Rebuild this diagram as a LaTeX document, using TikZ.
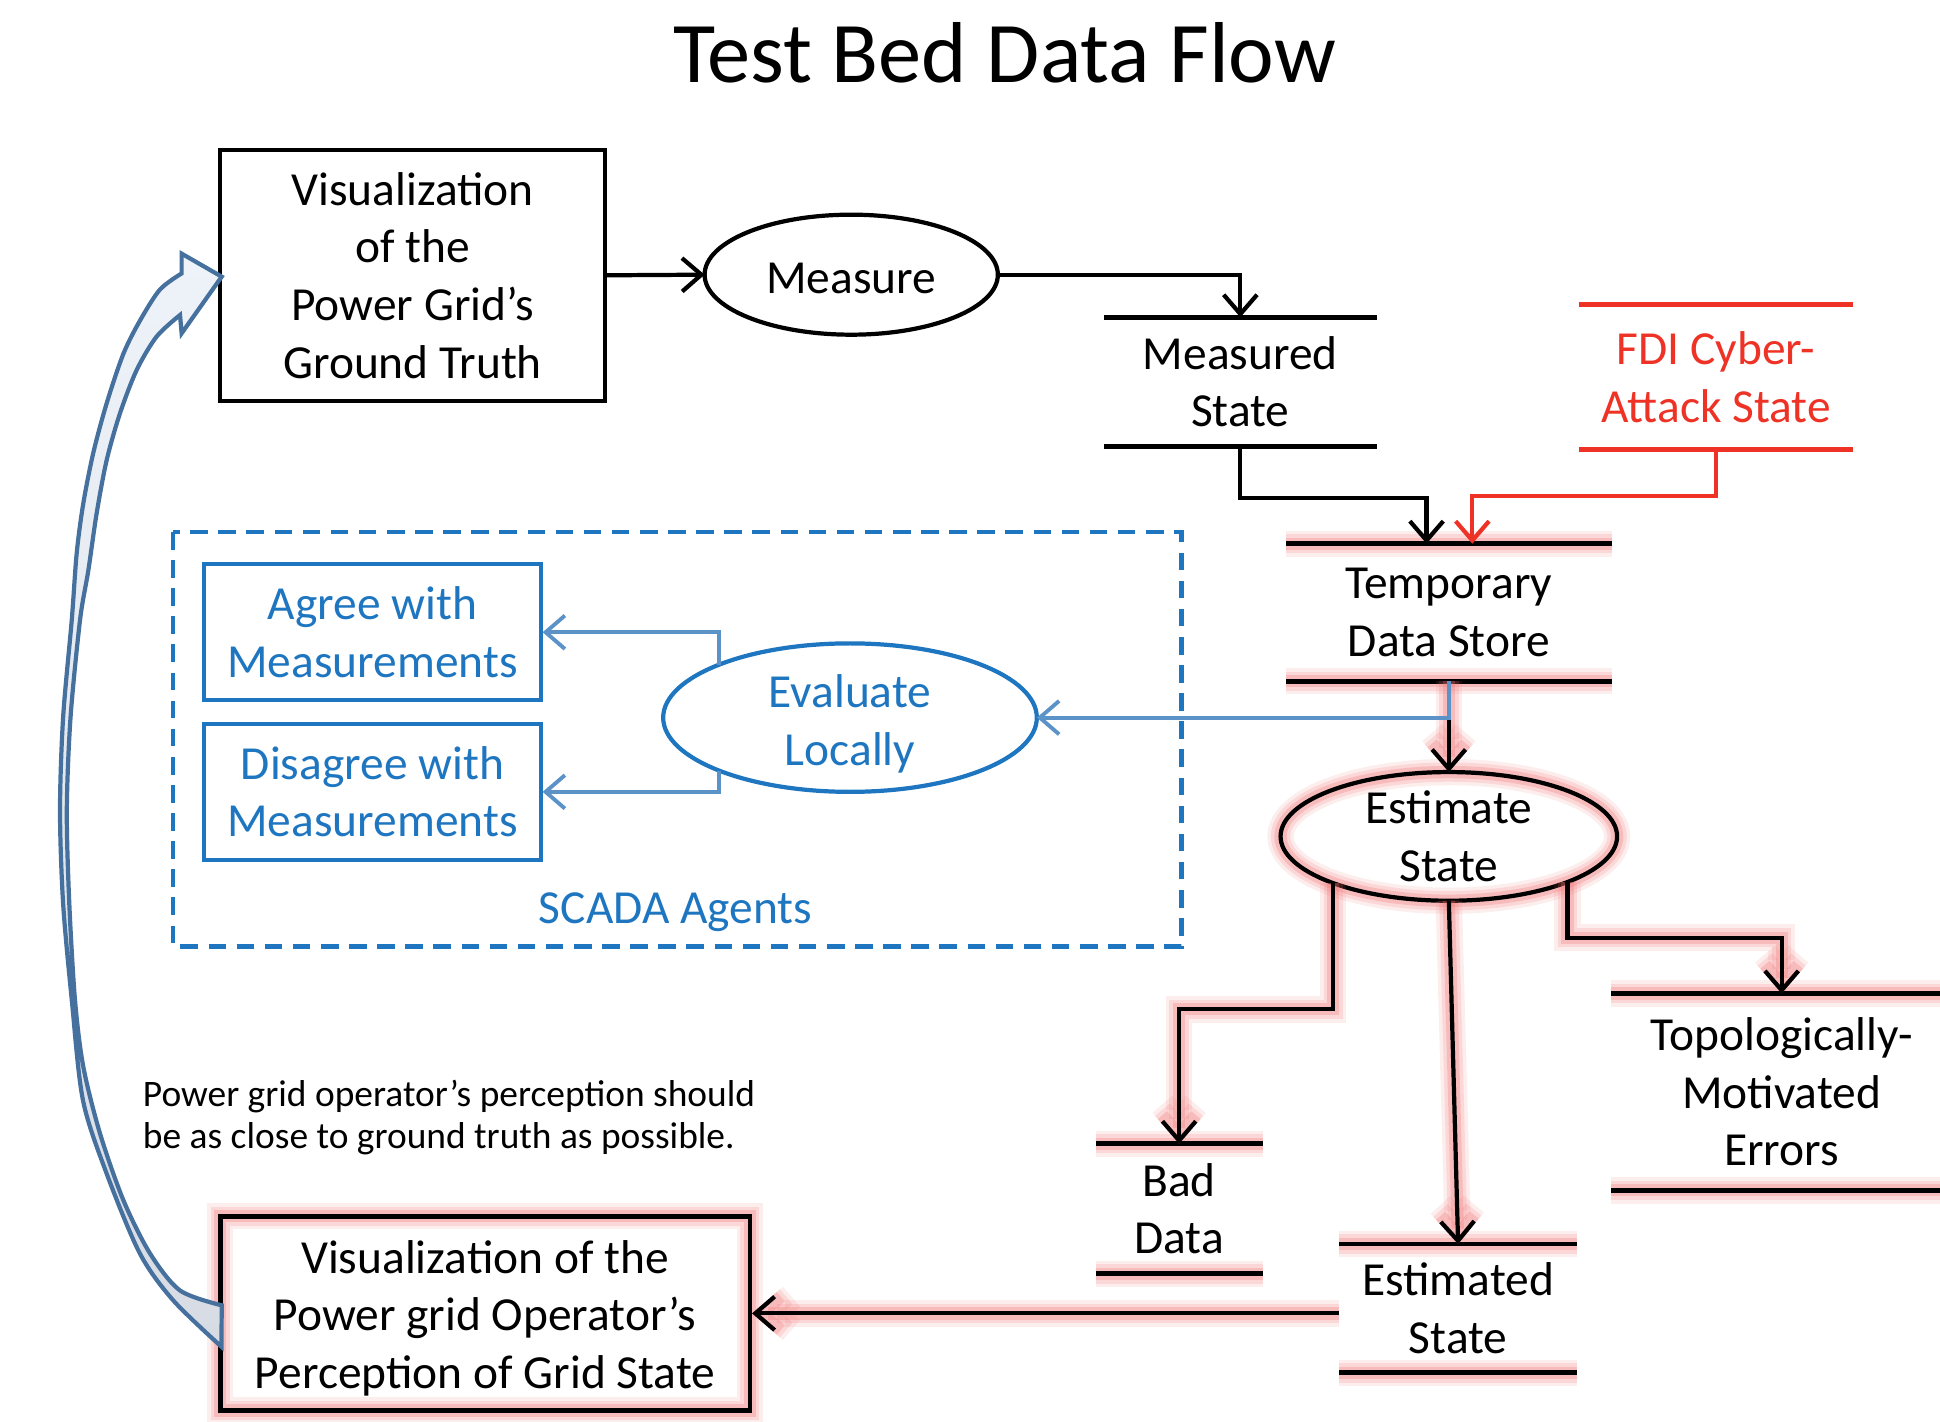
\documentclass[tikz,border=0pt]{standalone}
\usepackage{fontspec}
\setmainfont{Carlito}
\usepackage{tikz}
\usetikzlibrary{arrows.meta,shapes.geometric,calc}
\definecolor{agent}{HTML}{1F76C0}
\definecolor{agentline}{HTML}{5B93C8}
\definecolor{attackred}{HTML}{EE3326}
\definecolor{glowc}{HTML}{F07070}
\definecolor{loopline}{HTML}{46719E}
\definecolor{looptop}{HTML}{EEF3F9}
\definecolor{loopbot}{HTML}{D7DCE4}
\newcommand{\unitpx}{0.012372cm}
\tikzset{
  txt/.style={font=\fontsize{13.5}{16.4}\selectfont, align=center, inner sep=0pt},
  proc/.style={txt, draw, line width=1.1pt, rectangle},
  bubble/.style={ellipse, draw, line width=1.2pt, inner sep=0pt, outer sep=0pt},
  storeline/.style={line width=1.4pt},
  flow/.style={line width=1.2pt, -{Straight Barb[length=5.5pt, width=9.5pt]}},
  attack/.style={flow, draw=attackred},
  agentflow/.style={line width=1.1pt, draw=agentline, -{Straight Barb[length=5.5pt, width=9.5pt]}},
  agentbox/.style={draw=agent, line width=1.2pt, dash pattern=on 5pt off 3pt},
  glow/.style={preaction={draw=glowc, line width=7.5pt, opacity=0.12},
               preaction={draw=glowc, line width=5.5pt, opacity=0.18},
               preaction={draw=glowc, line width=3.5pt, opacity=0.28}}
}

\begin{document}
\begin{tikzpicture}[x=0.012372cm, y=-0.012372cm]
\useasboundingbox (0,0) rectangle (1568,1149);

\node[txt, font=\fontsize{24.6}{28}\selectfont] (title) at (812,43) {Test Bed Data Flow};

% ground truth side
\node[proc, minimum width=311*\unitpx, minimum height=203*\unitpx] (truth) at (333.5,222.5)
  {Visualization\\of the\\Power Grid’s\\Ground Truth};
\node[bubble, minimum width=237*\unitpx, minimum height=97*\unitpx] (measure) at (688,222) {};
\node[txt] (measureT) at ([yshift=-3*\unitpx]measure.center) {Measure};

\node[txt, minimum width=219*\unitpx, minimum height=103*\unitpx] (meas) at (1002.5,308.5) {Measured\\State};
\draw[storeline] (meas.north west) -- (meas.north east) (meas.south west) -- (meas.south east);

\node[txt, text=attackred, minimum width=220*\unitpx, minimum height=116*\unitpx] (fdi) at (1387,305) {FDI Cyber-\\Attack State};
\draw[storeline, draw=attackred] (fdi.north west) -- (fdi.north east) (fdi.south west) -- (fdi.south east);

\node[txt, minimum width=262*\unitpx, minimum height=110*\unitpx] (temp) at (1171,495) {Temporary\\Data Store};
\draw[storeline, glow] (temp.north west) -- (temp.north east);
\draw[storeline, glow] (temp.south west) -- (temp.south east);

% estimation side
\node[bubble, glow, minimum width=272*\unitpx, minimum height=104*\unitpx] (est) at (1171,676) {};
\node[txt] (estT) at (est) {Estimate\\State};

\node[txt, minimum width=134*\unitpx, minimum height=104*\unitpx] (bad) at (953,977) {Bad\\Data};
\draw[storeline, glow] (bad.north west) -- (bad.north east);
\draw[storeline, glow] (bad.south west) -- (bad.south east);

\node[txt, minimum width=274*\unitpx, minimum height=158*\unitpx] (topo) at (1440,882.5) {Topologically-\\Motivated\\Errors};
\draw[storeline, glow] (topo.north west) -- (topo.north east);
\draw[storeline, glow] (topo.south west) -- (topo.south east);

\node[txt, minimum width=191*\unitpx, minimum height=103*\unitpx] (estd) at (1178.5,1057.5) {Estimated\\State};
\draw[storeline, glow] (estd.north west) -- (estd.north east);
\draw[storeline, glow] (estd.south west) -- (estd.south east);

\node[proc, glow, line width=1.3pt, minimum width=428*\unitpx, minimum height=157*\unitpx] (percep) at (392,1061.5) {};
\node[txt] (percepT) at ([yshift=-4*\unitpx]percep.center)
  {Visualization of the\\Power grid Operator’s\\Perception of Grid State};

% SCADA agents
\draw[agentbox] (140,430) rectangle (955,765);
\node[txt, text=agent] (scadaT) at (546,737) {SCADA Agents};
\node[proc, draw=agent, text=agent, minimum width=272*\unitpx, minimum height=110*\unitpx] (agree) at (301,511) {Agree with\\Measurements};
\node[proc, draw=agent, text=agent, minimum width=272*\unitpx, minimum height=110*\unitpx] (disagree) at (301,640) {Disagree with\\Measurements};
\node[bubble, draw=agent, minimum width=302*\unitpx, minimum height=120*\unitpx] (eval) at (687,580) {};
\node[txt, text=agent] (evalT) at ([yshift=-5*\unitpx]eval.center) {Evaluate\\Locally};

\node[txt, font=\fontsize{10.65}{11.9}\selectfont, align=left, anchor=west] (note) at (115,903)
  {Power grid operator’s perception should\\be as close to ground truth as possible.};

% connectors
\draw[flow] (truth.east) -- (measure.west);
\draw[flow] (measure.east) -| (meas.north);
\draw[flow] (meas.south) -- ++(0,42) -| ([xshift=-18*\unitpx]temp.north);
\draw[attack] (fdi.south) -- ++(0,37) -| ([xshift=19*\unitpx]temp.north);
\coordinate (split) at (temp.south |- eval.east);
\draw[flow, glow] (temp.south) -- (est.north);
\draw[agentflow] (temp.south) -- (split) -- (eval.east);
\draw[agentflow] (eval.158) |- (agree.east);
\draw[agentflow] (eval.202) |- (disagree.east);
\draw[flow, glow] (est.202) -- ++(0,102) -| (bad.north);
\draw[flow, glow] (est.south) -- (estd.north);
\draw[flow, glow] (est.339) -- ++(0,45) -| (topo.north);
\draw[flow, glow] (percep.east -| estd.west) -- (percep.east);

% feedback arrow
\filldraw[draw=loopline, line width=1.2pt, top color=looptop, bottom color=loopbot]
  plot[smooth] coordinates {(179,1088.5) (140,1051) (113,1013) (86,948) (67,889) (58,808) (51,730) (48.5,655) (51,580) (58,501) (62,447) (67.3,407) (75.4,366) (86.2,326) (99.7,286) (113.2,259) (129.3,234) (146.8,221)}
  -- (146.8,205) -- (179.2,223.6) -- (146.8,269.4) -- (145.5,254.6)
  -- plot[smooth] coordinates {(145.5,254.6) (126.6,272) (110.5,299) (97,334) (86.2,372) (78.1,415) (71.4,461) (64.7,501) (57,580) (54,655) (56,730) (60.6,808) (67.3,862) (80.8,916) (99.7,970) (121.2,1013) (145.5,1043) (179.2,1055)}
  -- cycle;
\end{tikzpicture}
\end{document}
